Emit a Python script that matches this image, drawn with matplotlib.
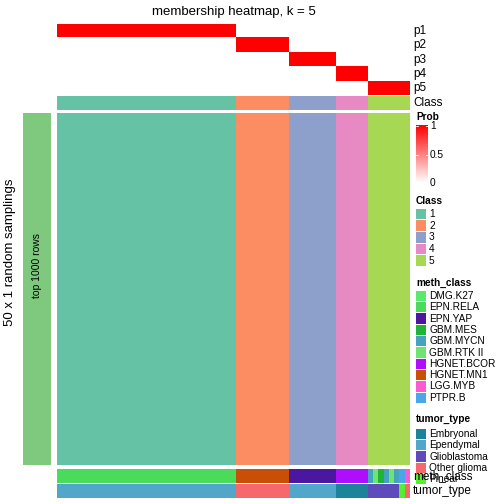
import numpy as np
import matplotlib
matplotlib.use("Agg")
import matplotlib.pyplot as plt
from matplotlib.colors import ListedColormap, LinearSegmentedColormap
from matplotlib.patches import Rectangle

plt.rcParams['font.family'] = ['Liberation Sans', 'DejaVu Sans']

# ---------------- data ----------------
class_sizes = [34, 10, 9, 6, 8]
class_names = ['1', '2', '3', '4', '5']
class_colors = ['#66C2A5', '#FC8D62', '#8DA0CB', '#E78AC3', '#A6D854']

meth_names = ['DMG.K27', 'EPN.RELA', 'EPN.YAP', 'GBM.MES', 'GBM.MYCN', 'GBM.RTK II',
              'HGNET.BCOR', 'HGNET.MN1', 'LGG.MYB', 'PTPR.B']
meth_colors = ['#5CE86C', '#4ADB5A', '#4B17A0', '#1DB536', '#46A3BE', '#6DE570',
               '#AE0EFD', '#C94F07', '#FC5BD0', '#4AA6EB']
# meth_class per sample, in column order
meth_per_sample = (['EPN.RELA'] * 34 + ['HGNET.MN1'] * 10 + ['EPN.YAP'] * 9 +
                   ['HGNET.BCOR'] * 6 +
                   ['GBM.MYCN', 'GBM.RTK II', 'GBM.MES', 'GBM.MYCN', 'GBM.RTK II',
                    'GBM.MYCN', 'PTPR.B', 'LGG.MYB'])

tumor_names = ['Embryonal', 'Ependymal', 'Glioblastoma', 'Other glioma', 'Pineal']
tumor_colors = ['#1B8499', '#52A6C9', '#5E4ABA', '#F4686E', '#55F02A']
tumor_per_sample = (['Ependymal'] * 34 + ['Other glioma'] * 10 + ['Ependymal'] * 9 +
                    ['Embryonal'] * 6 + ['Glioblastoma'] * 6 + ['Pineal', 'Other glioma'])

n_rows = 1000

# ---------------- derived ----------------
cls = np.repeat(np.arange(5), class_sizes)
n = len(cls)
prob = np.zeros((5, n))
prob[cls, np.arange(n)] = 1.0
meth_idx = np.array([meth_names.index(m) for m in meth_per_sample])
tumor_idx = np.array([tumor_names.index(t) for t in tumor_per_sample])

W, H = 504, 504
fig = plt.figure(figsize=(W / 100, H / 100), dpi=100)


def add_ax(x0, y0, x1, y1):
    ax = fig.add_axes([x0 / W, 1 - y1 / H, (x1 - x0) / W, (y1 - y0) / H])
    ax.set_axis_off()
    return ax


def strip(x0, y0, x1, y1, idx, colors, ncat):
    ax = add_ax(x0, y0, x1, y1)
    ax.imshow(idx[None, :], aspect='auto', cmap=ListedColormap(colors),
              vmin=-0.5, vmax=ncat - 0.5, interpolation='nearest')
    return ax


L, R = 57, 410
prob_cmap = LinearSegmentedColormap.from_list('prob', ['#FFFFFF', '#FF0000'])

# probability heatmap
ax = add_ax(L, 24, R, 95.5)
ax.imshow(prob, aspect='auto', cmap=prob_cmap, vmin=0, vmax=1, interpolation='nearest')
row_h = (95.5 - 24) / 5
for i in range(5):
    fig.text((R + 3) / W, 1 - (24 + row_h * (i + 0.5)) / H, 'p%d' % (i + 1),
             fontsize=8.5, va='center', ha='left')

# class bar
strip(L, 96, R, 110, cls, class_colors, 5)
fig.text((R + 3) / W, 1 - 103 / H, 'Class', fontsize=8.5, va='center', ha='left')

# main heatmap
ax = add_ax(L, 113, R, 465)
ax.imshow(np.tile(cls, (n_rows, 1)), aspect='auto', cmap=ListedColormap(class_colors),
          vmin=-0.5, vmax=4.5, interpolation='nearest')

# row split bar
ax = add_ax(23, 113, 51, 465)
ax.add_patch(Rectangle((0, 0), 1, 1, color='#7FC97F'))
ax.set_xlim(0, 1)
ax.set_ylim(0, 1)
fig.text(37 / W, 1 - 266 / H, 'top 1000 rows', rotation=90, ha='center', va='center',
         fontsize=7.5)
fig.text(10 / W, 1 - 252 / H, '50 x 1 random samplings', rotation=90,
         ha='center', va='center', fontsize=9.5)

# bottom annotations
strip(L, 469, R, 483, meth_idx, meth_colors, len(meth_names))
strip(L, 484, R, 498, tumor_idx, tumor_colors, len(tumor_names))

# title
fig.text((L + R) / 2 / W, 1 - 12 / H, 'membership heatmap, k = 5', fontsize=9.5,
         ha='center', va='center')

# ---------------- legends ----------------
lx = 416
fs = 7.3
fig.text(lx / W, 1 - 117 / H, 'Prob', fontsize=fs, fontweight='bold', va='center')
cax = add_ax(lx, 125, lx + 12, 183)
cax.imshow(np.linspace(1, 0, 100)[:, None], aspect='auto', cmap=prob_cmap, vmin=0, vmax=1)
for v, y in [(1, 126), (0.5, 155), (0, 183)]:
    fig.text((lx + 14) / W, 1 - y / H, '%g' % v, fontsize=fs, va='center')
    for xx in (lx, lx + 10):
        fig.add_artist(plt.Line2D([xx / W, (xx + 2) / W], [1 - y / H, 1 - y / H],
                                  color='white', lw=0.6))


def legend_block(title, names, colors, ty, y0, step):
    fig.text(lx / W, 1 - ty / H, title, fontsize=fs, fontweight='bold', va='center')
    for i, (nm, c) in enumerate(zip(names, colors)):
        yc = y0 + i * step
        a = add_ax(lx, yc - step / 2 + 0.5, lx + 10, yc + step / 2 - 0.5)
        a.add_patch(Rectangle((0, 0), 1, 1, color=c))
        a.set_xlim(0, 1)
        a.set_ylim(0, 1)
        fig.text((lx + 13) / W, 1 - yc / H, nm, fontsize=fs, va='center')


legend_block('Class', class_names, class_colors, 201, 214, 11.7)
legend_block('meth_class', meth_names, meth_colors, 283, 296, 11.3)
legend_block('tumor_type', tumor_names, tumor_colors, 419, 434, 11.3)

fig.text((R + 3) / W, 1 - 476 / H, 'meth_class', fontsize=8.5, va='center')
fig.text((R + 3) / W, 1 - 491 / H, 'tumor_type', fontsize=8.5, va='center')

fig.savefig('out.png', dpi=100)
